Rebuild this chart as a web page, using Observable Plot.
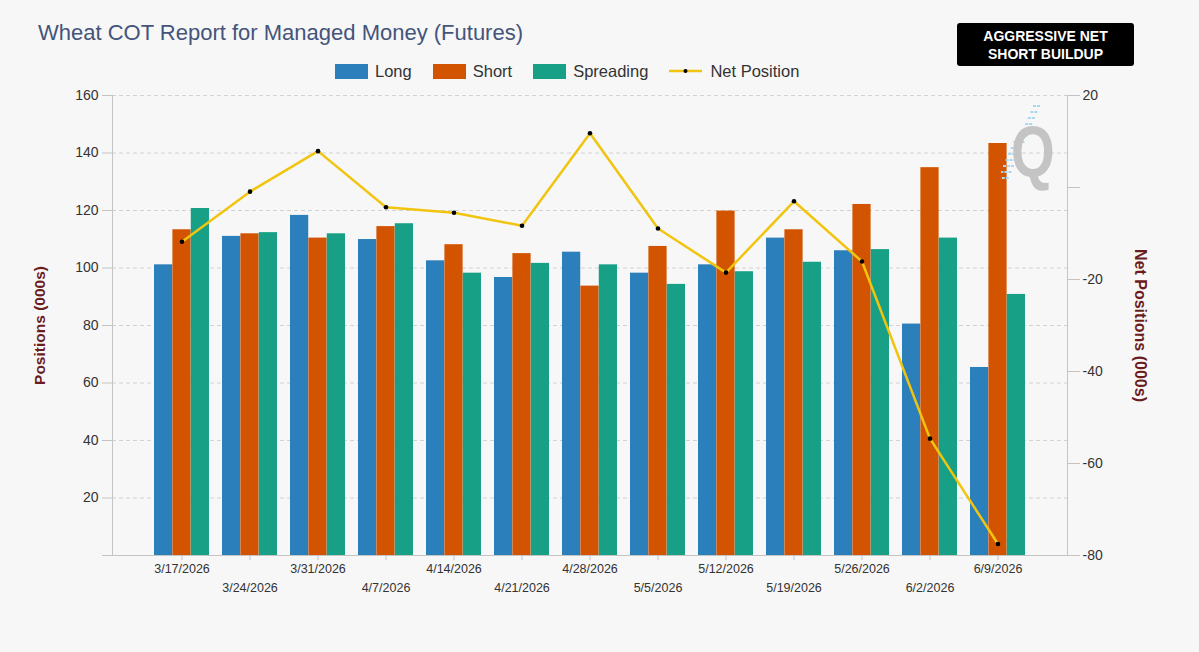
<!DOCTYPE html>
<html><head><meta charset="utf-8">
<script src="https://cdn.jsdelivr.net/npm/d3@7"></script>
<script src="https://cdn.jsdelivr.net/npm/@observablehq/plot@0.6"></script>
<style>
body{margin:0;background:#f7f7f7;font-family:"Liberation Sans",Arial,sans-serif;}
#wrap{position:relative;width:1199px;height:652px;overflow:hidden;background:#f7f7f7;}
#wrap svg.chart{position:absolute;left:0;top:0;}
#title{position:absolute;left:38px;top:20px;font-size:22px;color:#44547a;white-space:nowrap;}
#legend{position:absolute;top:62px;left:335px;height:18px;display:flex;align-items:center;font-size:16.5px;color:#333;white-space:nowrap;}
#legend .sw{width:33px;height:15px;margin-right:7px;}
#legend .it{display:flex;align-items:center;margin-right:21px;}
#badge{position:absolute;left:957px;top:23px;width:177px;height:43px;background:#000;border-radius:3px;color:#fff;font-weight:bold;font-size:14px;line-height:18px;text-align:center;display:flex;flex-direction:column;justify-content:center;}
#q{position:absolute;left:1011px;top:116px;font-size:72px;font-weight:bold;color:#c4c4c4;line-height:1;transform:scaleX(0.78);transform-origin:left top;}
#stripes{position:absolute;left:1001px;top:100px;}
</style></head>
<body>
<div id="wrap">
  <div id="title">Wheat COT Report for Managed Money (Futures)</div>
  <div id="legend"></div>
  <div id="badge"><div>AGGRESSIVE NET</div><div>SHORT BUILDUP</div></div>
  <div id="q">Q</div>
</div>
<script>
const dates = ["3/17/2026","3/24/2026","3/31/2026","4/7/2026","4/14/2026","4/21/2026","4/28/2026","5/5/2026","5/12/2026","5/19/2026","5/26/2026","6/2/2026","6/9/2026"];
const longPos = [101.1,111.0,118.3,109.9,102.5,96.7,105.5,98.2,101.1,110.4,106.0,80.5,65.4];
const shortPos = [113.3,111.9,110.4,114.4,108.1,105.0,93.7,107.5,119.8,113.3,122.1,134.9,143.3];
const spreadPos = [120.7,112.3,111.9,115.4,98.2,101.6,101.1,94.3,98.7,102.0,106.4,110.4,90.8];
const netPos = [-11.8,-0.9,7.9,-4.3,-5.5,-8.3,11.8,-8.9,-18.5,-3.0,-16.1,-54.6,-77.5];
const leftTicks = [0,20,40,60,80,100,120,140,160];
const rightTicks = [20,0,-20,-40,-60,-80];
const seriesNames = ["Long","Short","Spreading","Net Position"];
const colors = {Long:"#2b7fba", Short:"#d35400", Spreading:"#17a085", "Net Position":"#f1c40f"};

const rows = dates.map((d,i)=>({date:d,long:longPos[i],short:shortPos[i],spread:spreadPos[i],net:netPos[i]}));

const W=1199,H=652,mt=95,mb=97,ml=112,mr=132;
const pIn=0.19,pOut=0.605;
const step=(W-ml-mr)/(dates.length - pIn + 2*pOut);
const bw=step*(1-pIn), third=bw/3;
const xOpts={type:"band",domain:dates,paddingInner:pIn,paddingOuter:pOut,axis:null};
const font='"Liberation Sans",Arial,sans-serif';
const axisCol="#c4c4c4", txtCol="#333", titleCol="#6b1d1d";

const bars = Plot.plot({
  width:W,height:H,marginTop:mt,marginBottom:mb,marginLeft:ml,marginRight:mr,
  style:{background:"transparent",fontFamily:font,color:txtCol},
  x:xOpts, y:{domain:[0,160],axis:null},
  marks:[
    Plot.gridY(leftTicks.filter(d=>d>0),{stroke:"#d2d2d2",strokeOpacity:1,strokeDasharray:"4,3"}),
    Plot.barY(rows,{x:"date",y:"long",fill:colors.Long,insetLeft:0,insetRight:2*third}),
    Plot.barY(rows,{x:"date",y:"short",fill:colors.Short,insetLeft:third,insetRight:third}),
    Plot.barY(rows,{x:"date",y:"spread",fill:colors.Spreading,insetLeft:2*third,insetRight:0}),
    Plot.frame({anchor:"left",stroke:axisCol}),
    Plot.frame({anchor:"bottom",stroke:axisCol}),
    Plot.axisY({ticks:leftTicks,label:null,tickSize:10,tickPadding:4,stroke:axisCol,fill:txtCol,fontSize:14,tickFormat:d=>d===0?"":String(d)}),
    Plot.axisX({label:null,tickSize:5,tickPadding:4,stroke:axisCol,fill:txtCol,fontSize:12.5,tickFormat:d=>dates.indexOf(d)%2?"":d}),
    Plot.axisX({label:null,tickSize:0,tickPadding:28,fill:txtCol,fontSize:12.5,tickFormat:d=>dates.indexOf(d)%2?d:""}),
    Plot.text(["Positions (000s)"],{frameAnchor:"left",textAnchor:"middle",rotate:-90,dx:-72,fontWeight:"bold",fontSize:15.5,fill:titleCol})
  ]
});

const net = Plot.plot({
  width:W,height:H,marginTop:mt,marginBottom:mb,marginLeft:ml,marginRight:mr,
  style:{background:"transparent",fontFamily:font,color:txtCol},
  x:xOpts, y:{domain:[-80,20],axis:null},
  marks:[
    Plot.frame({anchor:"right",stroke:axisCol}),
    Plot.axisY({anchor:"right",label:null,ticks:rightTicks,tickSize:12,tickPadding:3,stroke:axisCol,fill:txtCol,fontSize:14,tickFormat:d=>d===0?"":String(d)}),
    Plot.lineY(rows,{x:"date",y:"net",stroke:colors["Net Position"],strokeWidth:2.5}),
    Plot.dot(rows,{x:"date",y:"net",r:2.3,fill:"#000"}),
    Plot.text(["Net Positions (000s)"],{frameAnchor:"right",textAnchor:"middle",rotate:90,dx:73,fontWeight:"bold",fontSize:16,fill:titleCol})
  ]
});
bars.classList.add("chart");
net.classList.add("chart");

const wrap=document.getElementById("wrap");
wrap.insertBefore(bars, wrap.firstChild);
wrap.insertBefore(net, bars.nextSibling);

// watermark stripes
const ns="http://www.w3.org/2000/svg";
const st=document.createElementNS(ns,"svg");
st.setAttribute("id","stripes");st.setAttribute("width","50");st.setAttribute("height","90");
for(let k=0;k<13;k++){
  const l=document.createElementNS(ns,"line");
  const y=6+k*6, x2=40-k*2.6;
  l.setAttribute("x1",x2-8-(k>5?4:0));l.setAttribute("x2",x2);l.setAttribute("y1",y);l.setAttribute("y2",y);
  l.setAttribute("stroke","#a9d6f0");l.setAttribute("stroke-width","2");l.setAttribute("stroke-dasharray","3,1");
  st.appendChild(l);
}
wrap.insertBefore(st, document.getElementById("q"));

// legend
const lg=document.getElementById("legend");
seriesNames.forEach(name=>{
  const it=document.createElement("div");it.className="it";
  if(name==="Net Position"){
    it.innerHTML=`<svg width="33" height="10" style="margin-right:8px;display:block"><line x1="0" x2="33" y1="5" y2="5" stroke="${colors[name]}" stroke-width="2.5"/><circle cx="16.5" cy="5" r="2" fill="#000"/></svg>`;
  } else {
    const sw=document.createElement("div");sw.className="sw";sw.style.background=colors[name];it.appendChild(sw);
  }
  const t=document.createElement("span");t.textContent=name;it.appendChild(t);
  lg.appendChild(it);
});
</script>
</body></html>
